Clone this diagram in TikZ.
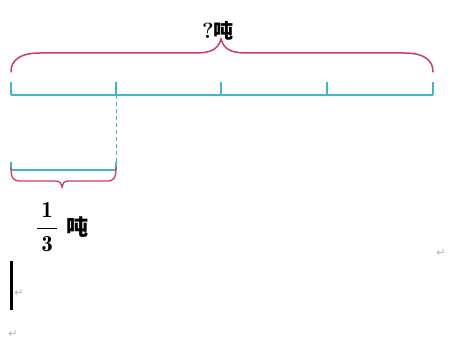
\documentclass[tikz,border=0pt]{standalone}
\usepackage{amsmath}
\usepackage{fontspec}
\newfontfamily\cjk{Noto Sans CJK SC}
\newfontfamily\symfont{DejaVu Sans}
\usepackage{tikz}
\usetikzlibrary{calc}

\definecolor{segcyan}{HTML}{45B4C8}
\definecolor{bracepink}{HTML}{C83A72}

\begin{document}
\begin{tikzpicture}[x=1pt, y=-1pt,
    seg/.style={segcyan, line width=1.2pt},
    brace/.style={bracepink, line width=1.5pt, line cap=round},
    retmark/.style={gray!60, font=\symfont\fontsize{11}{12}\selectfont, inner sep=0pt}
]
    \useasboundingbox (0,0) rectangle (449,342);

    % Whole line with ticks
    \foreach \i/\x in {0/11, 1/116, 2/221, 3/327, 4/433} {
        \coordinate (t\i) at (\x,95);
        \draw[seg] (t\i) -- ++(0,-13);
    }
    \draw[seg] (t0) -- (t4);

    % Big brace
    \draw[brace] (11,72) .. controls (11,60) and (20,53) .. (40,53) -- (195,53)
        .. controls (210,53) and (218,50) .. (221,39)
        .. controls (224,50) and (232,53) .. (247,53) -- (404,53)
        .. controls (424,53) and (433,60) .. (433,72);
    \node[inner sep=0pt] (total) at (218,31)
        {\fontsize{22}{26}\selectfont\bfseries ?\cjk\fontsize{20}{24}\selectfont 吨};

    % One part
    \coordinate (p0) at (11,170);
    \coordinate (p1) at (116,170);
    \draw[seg, line width=1pt, dash pattern=on 4pt off 3pt] (t1) -- (p1);
    \draw[seg] (p0) -- (p1);
    \draw[seg] (p0) -- ++(0,-8);
    \draw[seg] (p1) -- ++(0,-8);

    % Small brace
    \draw[brace, line width=1.3pt] (11,167) .. controls (11,178) and (13,181) .. (20,181) -- (55,181)
        .. controls (60,181) and (61,183) .. (62,187)
        .. controls (63,183) and (64,181) .. (69,181) -- (107,181)
        .. controls (114,181) and (116,178) .. (116,167);
    \node[font=\fontsize{23}{27}\selectfont, inner sep=0pt] (third) at (47,227) {$\dfrac{\,\mathbf{1}\,}{\,\mathbf{3}\,}$};
    \node[font=\cjk\bfseries\fontsize{22}{26}\selectfont, inner sep=0pt, right=8pt] (unit) at (third.east) {吨};

    % Editor marks
    \node[retmark] (r1) at (441,253) {↵};
    \node[retmark] (r2) at (19,293) {↵};
    \node[retmark] (r3) at (13,334) {↵};
    \fill (10,261) rectangle (13,310);
\end{tikzpicture}
\end{document}
